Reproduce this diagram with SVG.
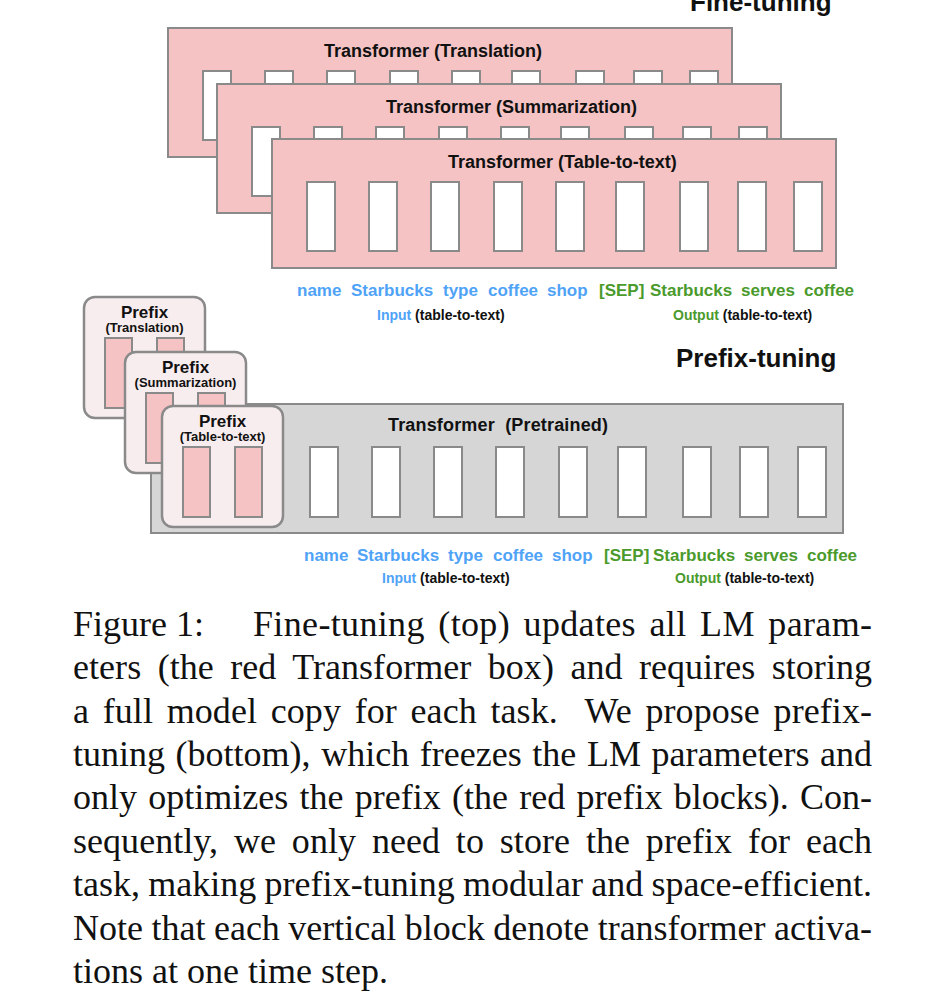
<svg xmlns="http://www.w3.org/2000/svg" width="946" height="1006" viewBox="0 0 946 1006">
<style>
.bg{fill:#ffffff}
.pink{fill:#F5C3C3;stroke:#8A8A8A;stroke-width:2}
.gray{fill:#D6D6D6;stroke:#8A8A8A;stroke-width:2}
.blk{fill:#ffffff;stroke:#8A8A8A;stroke-width:2}
.pbox{fill:#F8EDEE;stroke:#8A8A8A;stroke-width:2.5}
.pblk{fill:#F5C3C3;stroke:#8A8A8A;stroke-width:2}
.ttl{font-family:"Liberation Sans",Arial,sans-serif;font-weight:bold;font-size:18px;fill:#111}
.big{font-family:"Liberation Sans",Arial,sans-serif;font-weight:bold;font-size:26px;fill:#111}
.tok{font-family:"Liberation Sans",Arial,sans-serif;font-weight:bold;font-size:17px}
.in{fill:#4FA3F7}
.out{fill:#4A9A2C}
.sub{font-family:"Liberation Sans",Arial,sans-serif;font-weight:bold;font-size:14px;fill:#111}
.pt{font-family:"Liberation Sans",Arial,sans-serif;font-weight:bold;font-size:17px;fill:#111;text-anchor:middle}
.ps{font-family:"Liberation Sans",Arial,sans-serif;font-weight:bold;font-size:13px;fill:#111;text-anchor:middle}
.cap{font-family:"Liberation Serif","Times New Roman",serif;font-size:36px;fill:#111}
</style>
<defs>
<g id="blocks9">
<rect class="blk" x="35" y="43" width="28" height="69"/>
<rect class="blk" x="97" y="43" width="28" height="69"/>
<rect class="blk" x="159" y="43" width="28" height="69"/>
<rect class="blk" x="222" y="43" width="28" height="69"/>
<rect class="blk" x="284" y="43" width="28" height="69"/>
<rect class="blk" x="344" y="43" width="28" height="69"/>
<rect class="blk" x="408" y="43" width="28" height="69"/>
<rect class="blk" x="466" y="43" width="28" height="69"/>
<rect class="blk" x="522" y="43" width="28" height="69"/>
</g>
</defs>
<rect class="bg" x="0" y="0" width="946" height="1006"/>

<text class="big" x="690" y="11">Fine-tuning</text>

<g id="ft-translation" transform="translate(168,28)">
<rect class="pink" x="0" y="0" width="564" height="129"/>
<use href="#blocks9"/>
<text class="ttl" x="156" y="29">Transformer (Translation)</text>
</g>
<g id="ft-summarization" transform="translate(217,84)">
<rect class="pink" x="0" y="0" width="564" height="129"/>
<use href="#blocks9"/>
<text class="ttl" x="169" y="29">Transformer (Summarization)</text>
</g>
<g id="ft-table-to-text" transform="translate(272,139)">
<rect class="pink" x="0" y="0" width="564" height="129"/>
<use href="#blocks9"/>
<text class="ttl" x="176" y="29">Transformer (Table-to-text)</text>
</g>

<g id="ft-tokens">
<text class="tok" y="296"><tspan class="in" x="297">name</tspan><tspan class="in" x="351">Starbucks</tspan><tspan class="in" x="443">type</tspan><tspan class="in" x="488">coffee</tspan><tspan class="in" x="547">shop</tspan><tspan class="out" x="599">[SEP]</tspan><tspan class="out" x="650">Starbucks</tspan><tspan class="out" x="741">serves</tspan><tspan class="out" x="804">coffee</tspan></text>
<text class="sub" x="377" y="320"><tspan class="in">Input</tspan> (table-to-text)</text>
<text class="sub" x="673" y="320"><tspan class="out">Output</tspan> (table-to-text)</text>
</g>

<text class="big" x="676" y="367">Prefix-tuning</text>

<g id="pt-transformer">
<rect class="gray" x="151" y="404" width="692" height="129"/>
<text class="ttl" x="388" y="431" textLength="220" lengthAdjust="spacing" xml:space="preserve">Transformer  (Pretrained)</text>
<rect class="blk" x="310" y="447" width="28" height="70"/>
<rect class="blk" x="372" y="447" width="28" height="70"/>
<rect class="blk" x="434" y="447" width="28" height="70"/>
<rect class="blk" x="496" y="447" width="28" height="70"/>
<rect class="blk" x="559" y="447" width="28" height="70"/>
<rect class="blk" x="618" y="447" width="28" height="70"/>
<rect class="blk" x="683" y="447" width="28" height="70"/>
<rect class="blk" x="740" y="447" width="28" height="70"/>
<rect class="blk" x="798" y="447" width="28" height="70"/>
</g>

<g id="prefix-translation" transform="translate(84,297)">
<rect class="pbox" x="0" y="0" width="121" height="121" rx="11"/>
<rect class="pblk" x="21" y="41" width="27" height="70"/>
<rect class="pblk" x="73" y="41" width="27" height="70"/>
<text class="pt" x="60.5" y="21">Prefix</text>
<text class="ps" x="60.5" y="35">(Translation)</text>
</g>
<g id="prefix-summarization" transform="translate(125,352)">
<rect class="pbox" x="0" y="0" width="121" height="121" rx="11"/>
<rect class="pblk" x="21" y="41" width="27" height="70"/>
<rect class="pblk" x="73" y="41" width="27" height="70"/>
<text class="pt" x="60.5" y="21">Prefix</text>
<text class="ps" x="60.5" y="35">(Summarization)</text>
</g>
<g id="prefix-table-to-text" transform="translate(162,406)">
<rect class="pbox" x="0" y="0" width="121" height="121" rx="11"/>
<rect class="pblk" x="21" y="41" width="27" height="70"/>
<rect class="pblk" x="73" y="41" width="27" height="70"/>
<text class="pt" x="60.5" y="21">Prefix</text>
<text class="ps" x="60.5" y="35">(Table-to-text)</text>
</g>

<g id="pt-tokens">
<text class="tok" y="561"><tspan class="in" x="304">name</tspan><tspan class="in" x="357">Starbucks</tspan><tspan class="in" x="448">type</tspan><tspan class="in" x="493">coffee</tspan><tspan class="in" x="552">shop</tspan><tspan class="out" x="604">[SEP]</tspan><tspan class="out" x="653">Starbucks</tspan><tspan class="out" x="744">serves</tspan><tspan class="out" x="807">coffee</tspan></text>
<text class="sub" x="382" y="583"><tspan class="in">Input</tspan> (table-to-text)</text>
<text class="sub" x="675" y="583"><tspan class="out">Output</tspan> (table-to-text)</text>
</g>

<g id="connectors"/>

<g id="caption">
<text class="cap" x="73" y="636">Figure 1:</text>
<text class="cap" x="253" y="636" word-spacing="4.2" textLength="619" lengthAdjust="spacing">Fine-tuning (top) updates all LM param-</text>
<text class="cap" x="73" y="679" word-spacing="7.4" textLength="799" lengthAdjust="spacing">eters (the red Transformer box) and requires storing</text>
<text class="cap" x="73" y="723" word-spacing="4.6" textLength="799" lengthAdjust="spacing" xml:space="preserve">a full model copy for each task.  We propose prefix-</text>
<text class="cap" x="73" y="766" word-spacing="1.6" textLength="799" lengthAdjust="spacing">tuning (bottom), which freezes the LM parameters and</text>
<text class="cap" x="73" y="809" word-spacing="2.3" textLength="799" lengthAdjust="spacing">only optimizes the prefix (the red prefix blocks). Con-</text>
<text class="cap" x="73" y="853" word-spacing="6.8" textLength="799" lengthAdjust="spacing">sequently, we only need to store the prefix for each</text>
<text class="cap" x="73" y="896" word-spacing="-0.8" textLength="799" lengthAdjust="spacing">task, making prefix-tuning modular and space-efficient.</text>
<text class="cap" x="73" y="940" word-spacing="-0.5" textLength="799" lengthAdjust="spacing">Note that each vertical block denote transformer activa-</text>
<text class="cap" x="73" y="983">tions at one time step.</text>
</g>
</svg>
